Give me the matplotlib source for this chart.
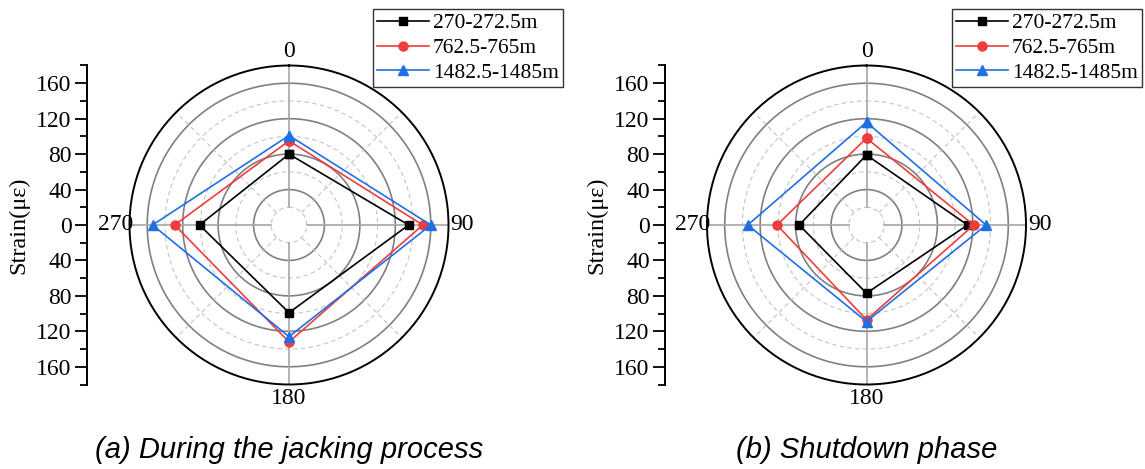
import numpy as np
import matplotlib.pyplot as plt
from matplotlib.ticker import MultipleLocator, FuncFormatter

plt.rcParams['font.family'] = ['Liberation Serif', 'DejaVu Serif']

# measuring directions (deg) and strain values for each depth section
angles_deg = [0, 90, 180, 270]
labels = ['270-272.5m', '762.5-765m', '1482.5-1485m']

jacking_black = [80, 135, 99, 101]
jacking_red = [95, 151, 132, 129]
jacking_blue = [101, 160, 126, 154]

shutdown_black = [79, 114, 77, 76]
shutdown_red = [98, 121, 107, 101]
shutdown_blue = [116, 135, 109, 134]

captions = ['(a) During the jacking process', '(b) Shutdown phase']

colors = ['#000000', '#f03c3c', '#1f6fe5']
markers = ['s', 'o', '^']
msizes = [6, 6.5, 7]

r_max = 180
W, H = 1145, 469


def fx(px):
    return px / W


def fy(py):
    return 1 - py / H


def draw_panel(fig, cx, cy, spine_x, series, caption, legend_right):
    R = 159.5
    ax = fig.add_axes([fx(cx - R), fy(cy + R), 2 * R / W, 2 * R / H], polar=True)
    ax.set_theta_zero_location('N')
    ax.set_theta_direction(-1)
    ax.set_ylim(0, r_max)
    ax.grid(False)
    ax.set_yticks([])

    full = np.linspace(0, 2 * np.pi, 361)
    # concentric grid circles
    for r in [40, 80, 120, 160]:
        ax.plot(full, np.full_like(full, r), color='#808080', lw=1.2, zorder=1)
    for r in [20, 60, 100, 140]:
        ax.plot(full, np.full_like(full, r), color='#c4c4c4', lw=0.8,
                ls=(0, (4, 3)), zorder=1)
    # radial grid lines, starting off-centre
    for a in range(0, 360, 90):
        t = np.deg2rad(a)
        ax.plot([t, t], [20, r_max], color='#a6a6a6', lw=1.2, zorder=1)
    for a in range(45, 360, 90):
        t = np.deg2rad(a)
        ax.plot([t, t], [20, r_max], color='#c4c4c4', lw=0.8,
                ls=(0, (4, 3)), zorder=1)

    ax.set_xticks(np.deg2rad(np.arange(0, 360, 45)))
    ax.set_xticklabels(['0', '', '90', '', '180', '', '270', ''])
    ax.tick_params(axis='x', direction='in', length=7, width=1.0,
                   color='black', labelsize=17, pad=3)
    ax.spines['polar'].set_linewidth(1.4)
    ax.spines['polar'].set_color('black')

    theta = np.deg2rad(angles_deg + angles_deg[:1])
    handles = []
    for vals, c, m, ms, lab in zip(series, colors, markers, msizes, labels):
        h, = ax.plot(theta, vals + vals[:1], color=c, marker=m, markersize=ms,
                     lw=1.2, label=lab, zorder=3, clip_on=False)
        handles.append(h)

    # linear strain scale on the left, mirrored about the centre
    axl = fig.add_axes([fx(spine_x), fy(cy + R), 0.001, 2 * R / H])
    axl.set_ylim(-r_max, r_max)
    axl.set_xlim(0, 1)
    for s in ['top', 'right', 'bottom']:
        axl.spines[s].set_visible(False)
    axl.spines['left'].set_linewidth(1.4)
    axl.set_xticks([])
    axl.yaxis.set_major_locator(MultipleLocator(40))
    axl.yaxis.set_minor_locator(MultipleLocator(20))
    axl.yaxis.set_major_formatter(FuncFormatter(lambda v, p: f'{abs(v):.0f}'))
    axl.tick_params(axis='y', which='major', length=9, width=1.3, labelsize=17, pad=2)
    axl.tick_params(axis='y', which='minor', length=5, width=1.3)
    axl.set_ylabel('Strain(\u03bc\u03b5)', fontsize=17.5, labelpad=5)
    axl.patch.set_visible(False)

    leg = fig.legend(handles=handles, loc='upper right',
                     bbox_to_anchor=(fx(legend_right), fy(9)),
                     fontsize=15.5, frameon=True, fancybox=False,
                     edgecolor='black', handlelength=2.4, handletextpad=0.2,
                     labelspacing=0.22, borderpad=0.2, borderaxespad=0)
    leg.get_frame().set_linewidth(1.0)

    fig.text(fx(cx), fy(450), caption, ha='center', va='center', fontsize=21,
             style='italic', family=['Liberation Sans', 'DejaVu Sans'])


fig = plt.figure(figsize=(W / 100, H / 100), dpi=100)

draw_panel(fig, 289, 225, 87, [jacking_black, jacking_red, jacking_blue],
           captions[0], 563)
draw_panel(fig, 866.5, 225, 665, [shutdown_black, shutdown_red, shutdown_blue],
           captions[1], 1142)

fig.savefig('out.png', dpi=100)
